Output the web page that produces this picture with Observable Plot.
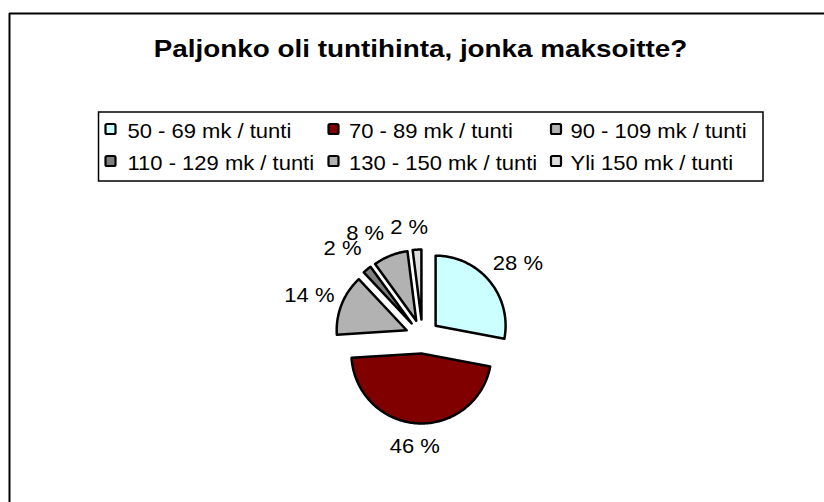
<!DOCTYPE html>
<html>
<head>
<meta charset="utf-8">
<script src="https://cdn.jsdelivr.net/npm/d3@7"></script>
<script src="https://cdn.jsdelivr.net/npm/@observablehq/plot@0.6"></script>
<style>
html, body { margin: 0; padding: 0; background: #ffffff; }
#chart svg { display: block; }
</style>
</head>
<body>
<div id="chart"></div>
<script>
// ---- data ----
const title = "Paljonko oli tuntihinta, jonka maksoitte?";
const categories = [
  "50 - 69 mk / tunti",
  "70 - 89 mk / tunti",
  "90 - 109 mk / tunti",
  "110 - 129 mk / tunti",
  "130 - 150 mk / tunti",
  "Yli 150 mk / tunti"
];
const values = [28, 46, 14, 2, 8, 2];
const colors = ["#CCFFFF", "#800000", "#B2B2B2", "#808080", "#B2B2B2", "#DDDDDD"];
const valueLabels = values.map(v => v + " %");

// ---- layout ----
const W = 824, H = 502;
const C = [422, 336], R = 70, EXPLODE = 17;
const LABEL_R = 99, LABEL_HH = 12;
const labelNudgeX = [0, 0, 2, -5, -14, -6];
const labelNudgeY = [-2, -1, 0, -2, 0, 2];
const FONT = "'Liberation Sans', Arial, Helvetica, sans-serif";

const arcs = d3.pie().sort(null).value(d => d)(values);

// slice polygons
const slicePts = [];
const labelPts = [];
arcs.forEach((p, i) => {
  const m = (p.startAngle + p.endAngle) / 2;
  const cx = C[0] + EXPLODE * Math.sin(m);
  const cy = C[1] - EXPLODE * Math.cos(m);
  slicePts.push({cat: categories[i], x: cx, y: cy});
  const n = Math.max(2, Math.ceil((p.endAngle - p.startAngle) / (Math.PI / 180)));
  for (let k = 0; k <= n; k++) {
    const a = p.startAngle + (p.endAngle - p.startAngle) * k / n;
    slicePts.push({cat: categories[i], x: cx + R * Math.sin(a), y: cy - R * Math.cos(a)});
  }
  const hw = valueLabels[i].length * 6.2;
  const ax = C[0] + LABEL_R * Math.sin(m);
  const ay = C[1] - LABEL_R * Math.cos(m);
  labelPts.push({
    text: valueLabels[i],
    x: ax + hw * Math.sin(m) + labelNudgeX[i],
    y: ay - LABEL_HH * Math.cos(m) + labelNudgeY[i]
  });
});

// legend layout
const legMarkX = [110.5, 333.5, 556];
const legTextX = [127, 348.5, 570];
const legMarkY = [129, 161];
const legTextY = [131, 163.5];
const legend = categories.map((c, i) => ({
  cat: c,
  mx: legMarkX[i % 3], my: legMarkY[Math.floor(i / 3)],
  tx: legTextX[i % 3], ty: legTextY[Math.floor(i / 3)]
}));

const chart = Plot.plot({
  width: W, height: H,
  margin: 0,
  style: {fontFamily: FONT, background: "#ffffff", color: "black"},
  x: {domain: [0, W], range: [0, W], axis: null},
  y: {domain: [0, H], range: [0, H], axis: null},
  color: {type: "ordinal", domain: categories, range: colors},
  marks: [
    // outer chart border (top & left visible)
    Plot.ruleY([{y: 13}], {y: "y", x1: () => 9, x2: () => W + 10, stroke: "black", strokeWidth: 2}),
    Plot.ruleX([{x: 9}], {x: "x", y1: () => 13, y2: () => H + 10, stroke: "black", strokeWidth: 2}),
    // title
    Plot.text([title], {x: () => 420, y: () => 49, text: d => d, fontSize: 24, fontWeight: "bold", fill: "black"}),
    // legend box
    Plot.rect([{x1: 98.5, x2: 763, y1: 112, y2: 181}], {x1: "x1", x2: "x2", y1: "y1", y2: "y2", fill: "white", stroke: "black", strokeWidth: 1.5}),
    // legend markers
    Plot.rect(legend, {
      x1: d => d.mx - 5, x2: d => d.mx + 5,
      y1: d => d.my - 5, y2: d => d.my + 5,
      fill: "cat", stroke: "black", strokeWidth: 2.2, rx: 1.5
    }),
    // legend labels
    Plot.text(legend, {x: "tx", y: "ty", text: "cat", textAnchor: "start", fontSize: 20, fill: "black"}),
    // pie slices
    Plot.line(slicePts, {
      x: "x", y: "y", z: "cat", fill: "cat",
      stroke: "black", strokeWidth: 2.5, strokeLinejoin: "round",
      curve: "linear-closed"
    }),
    // value labels
    Plot.text(labelPts, {x: "x", y: "y", text: "text", fontSize: 20, fill: "black"})
  ]
});

// horizontal stretch of text glyphs (as in the reference rendering)
chart.querySelectorAll("text").forEach(el => {
  const sx = el.textContent === title ? 1.16 : 1.1;
  let t = el.getAttribute("transform");
  if (t == null) {
    const x = el.getAttribute("x") || 0, y = el.getAttribute("y") || 0;
    el.removeAttribute("x"); el.removeAttribute("y");
    t = `translate(${x},${y})`;
  }
  el.setAttribute("transform", `${t} scale(${sx},1)`);
});

document.getElementById("chart").appendChild(chart);
</script>
</body>
</html>
